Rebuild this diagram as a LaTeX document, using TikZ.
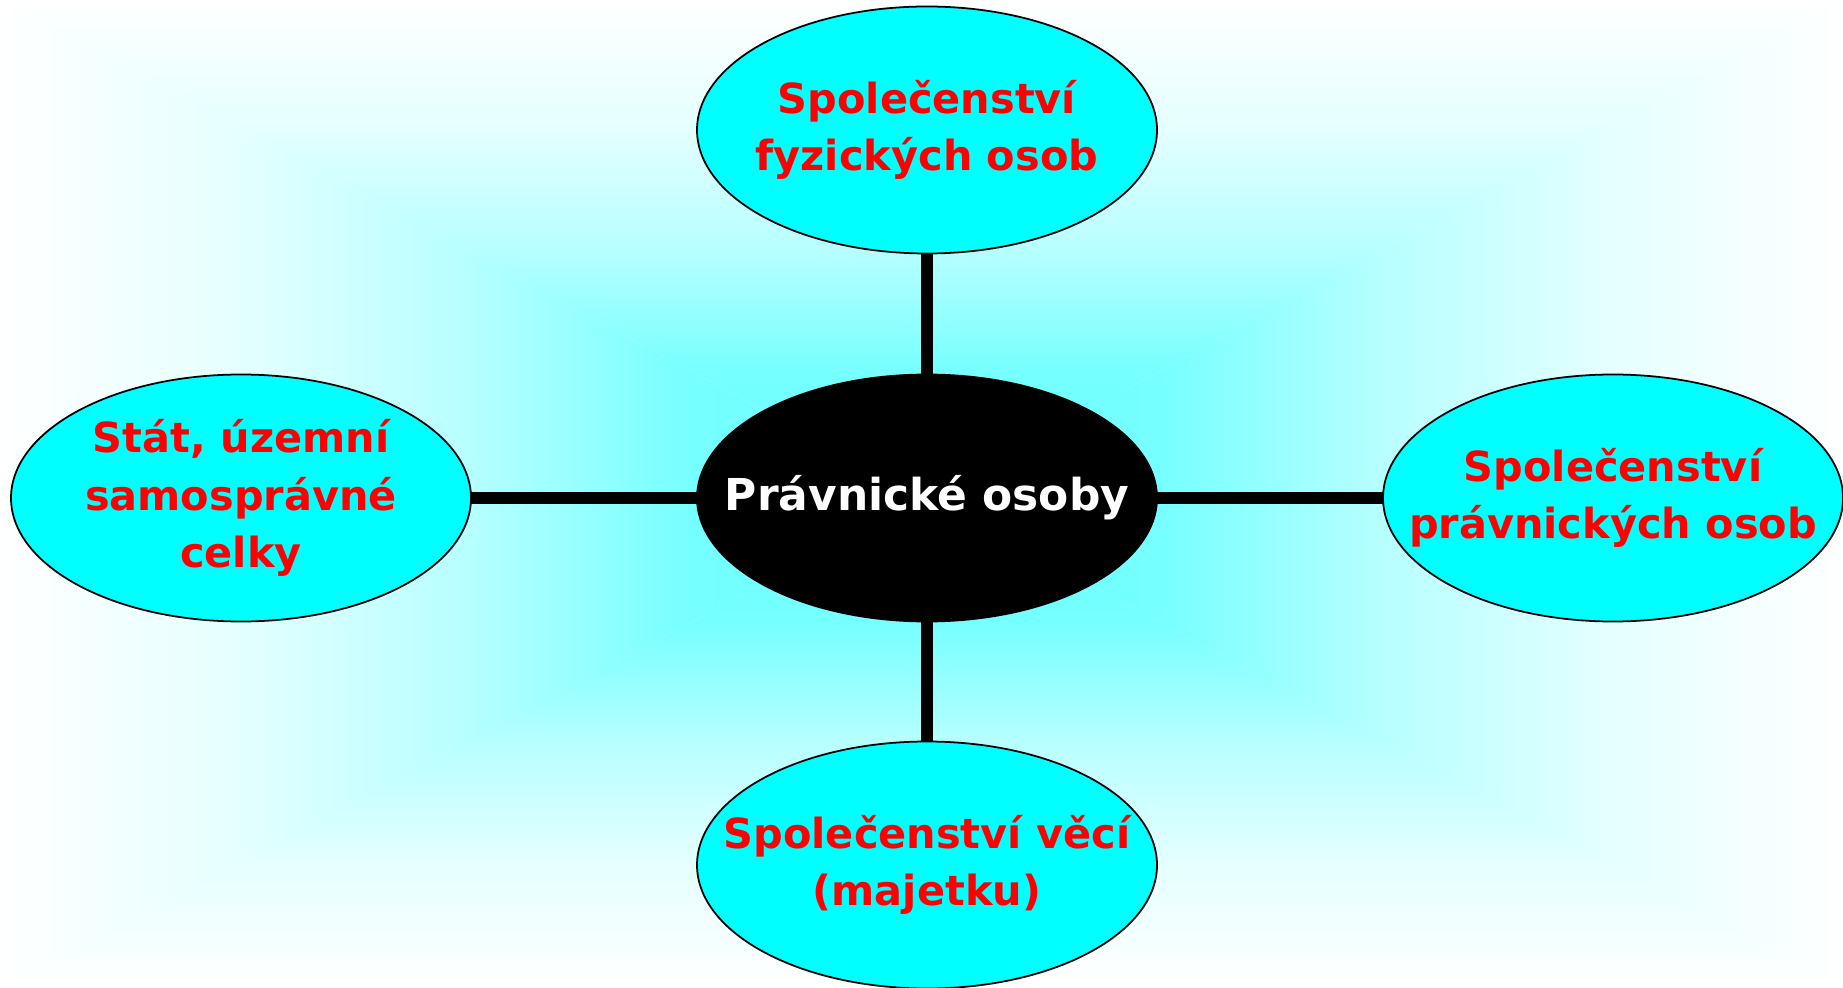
\documentclass[tikz,border=0pt]{standalone}
\usepackage{fontspec}
\setmainfont{DejaVu Sans}
\usepackage{tikz}
\usetikzlibrary{shapes.geometric}
\definecolor{aqua}{RGB}{0,255,255}
\definecolor{rudy}{RGB}{255,0,0}
\pgfdeclareverticalshading{ramp}{100bp}{color(0bp)=(aqua!58);color(25bp)=(aqua!58);color(37.5bp)=(aqua!54);color(50bp)=(aqua!28);color(62.5bp)=(aqua!10);color(72.5bp)=(aqua!2);color(75bp)=(white);color(100bp)=(white)}

\begin{document}
\begin{tikzpicture}[
  bubble/.style={ellipse,draw=black,line width=0.5pt,fill=aqua,minimum width=4.6cm,minimum height=2.47cm,inner sep=0pt},
  redtext/.style={text=rudy,font=\fontsize{11.8}{16.4}\selectfont\bfseries,align=center},
  link/.style={line width=3.4pt,black}]
  \useasboundingbox (0,0) rectangle (18.43,9.87);
  % pozadi
  \coordinate (c) at (9.27,4.89);
  \shade[shading=ramp] (c)--(0,9.87)--(18.43,9.87)--cycle;
  \shade[shading=ramp,shading angle=180] (c)--(0,0)--(18.43,0)--cycle;
  \shade[shading=ramp,shading angle=90] (c)--(0,0)--(0,9.87)--cycle;
  \shade[shading=ramp,shading angle=-90] (c)--(18.43,0)--(18.43,9.87)--cycle;
  % spojnice
  \draw[link] (c)--(9.27,8.57) (c)--(2.41,4.89) (c)--(16.13,4.89) (c)--(9.27,1.22);
  % bubliny
  \node[bubble,fill=black](pravo)at(9.27,4.89){};
  \node[text=white,font=\fontsize{12.5}{16}\selectfont\bfseries](pravo-t)at(pravo){Právnické osoby};
  \node[bubble](fyz)at(9.27,8.57){};
  \node[redtext](fyz-t)at(fyz){Společenství\\fyzických osob};
  \node[bubble](stat)at(2.41,4.89){};
  \node[redtext](stat-t)at(stat){Stát, územní\\samosprávné\\celky};
  \node[bubble](pravn)at(16.13,4.89){};
  \node[redtext](pravn-t)at(pravn){Společenství\\právnických osob};
  \node[bubble](veci)at(9.27,1.22){};
  \node[redtext](veci-t)at(veci){Společenství věcí\\(majetku)};
\end{tikzpicture}
\end{document}
